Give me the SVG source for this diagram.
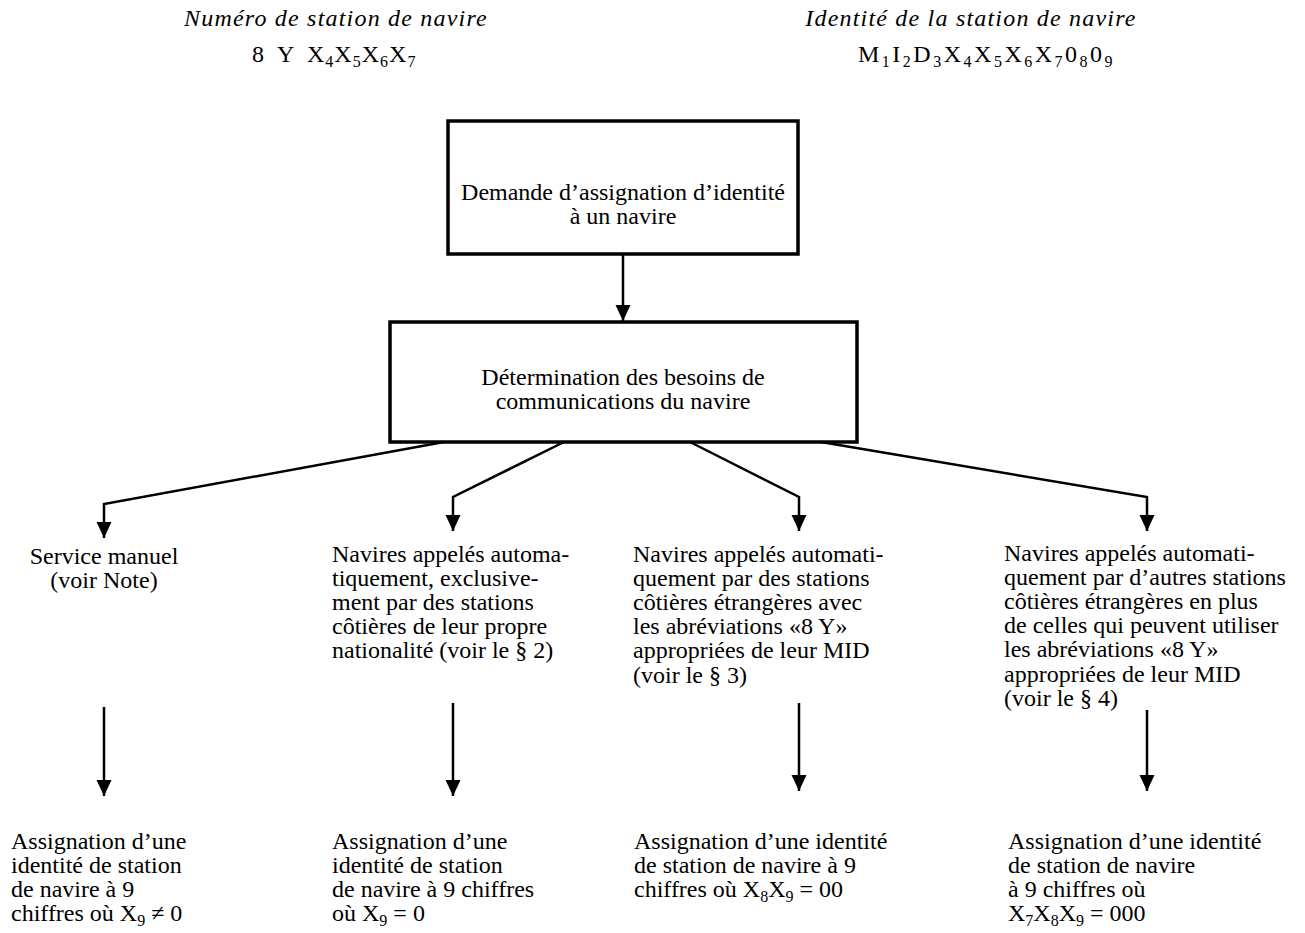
<svg xmlns="http://www.w3.org/2000/svg" width="1305" height="933" viewBox="0 0 1305 933">
<style>
.t{font-family:"Liberation Serif","Times New Roman",serif;font-size:24px;fill:#000}
.i{font-style:italic;letter-spacing:1.2px}
.s{font-size:16px}
.box{fill:#fff;stroke:#000;stroke-width:3.5}
.ln{fill:none;stroke:#000;stroke-width:2.5;stroke-linejoin:miter}
</style>
<defs>
<marker id="ah" markerUnits="userSpaceOnUse" markerWidth="16" markerHeight="18" refX="16" refY="7.5" orient="auto">
<path d="M0,0 L16,7.5 L0,15 Z" fill="#000"/>
</marker>
</defs>
<rect width="1305" height="933" fill="#fff"/>

<g id="header-left">
<text class="t i" x="336" y="26" text-anchor="middle">Numéro de station de navire</text>
<text class="t" x="252" y="62">8</text>
<text class="t" x="277" y="62">Y</text>
<text class="t" x="307" y="62" letter-spacing="1">X<tspan class="s" dy="5">4</tspan><tspan dy="-5">X</tspan><tspan class="s" dy="5">5</tspan><tspan dy="-5">X</tspan><tspan class="s" dy="5">6</tspan><tspan dy="-5">X</tspan><tspan class="s" dy="5">7</tspan></text>
</g>
<g id="header-right">
<text class="t i" x="971" y="26" text-anchor="middle">Identité de la station de navire</text>
<text class="t" x="858" y="62" letter-spacing="2.5">M<tspan class="s" dy="5">1</tspan><tspan dy="-5">I</tspan><tspan class="s" dy="5">2</tspan><tspan dy="-5">D</tspan><tspan class="s" dy="5">3</tspan><tspan dy="-5">X</tspan><tspan class="s" dy="5">4</tspan><tspan dy="-5">X</tspan><tspan class="s" dy="5">5</tspan><tspan dy="-5">X</tspan><tspan class="s" dy="5">6</tspan><tspan dy="-5">X</tspan><tspan class="s" dy="5">7</tspan><tspan dy="-5">0</tspan><tspan class="s" dy="5">8</tspan><tspan dy="-5">0</tspan><tspan class="s" dy="5">9</tspan></text>
</g>

<g id="connectors">
<line class="ln" x1="623" y1="254" x2="623" y2="321" marker-end="url(#ah)"/>
<polyline class="ln" points="444,442 104,504 104,538" marker-end="url(#ah)"/>
<polyline class="ln" points="564,442 453,497 453,531" marker-end="url(#ah)"/>
<polyline class="ln" points="690,442 799,497 799,531" marker-end="url(#ah)"/>
<polyline class="ln" points="821,442 1147,497 1147,531" marker-end="url(#ah)"/>
<line class="ln" x1="104" y1="707" x2="104" y2="796" marker-end="url(#ah)"/>
<line class="ln" x1="453" y1="703" x2="453" y2="796" marker-end="url(#ah)"/>
<line class="ln" x1="799" y1="703" x2="799" y2="791" marker-end="url(#ah)"/>
<line class="ln" x1="1147" y1="710" x2="1147" y2="791" marker-end="url(#ah)"/>
</g>

<g id="node-demande">
<rect class="box" x="448" y="121" width="350" height="133"/>
<text class="t" x="623" y="200" text-anchor="middle">Demande d’assignation d’identité</text>
<text class="t" x="623" y="224" text-anchor="middle">à un navire</text>
</g>

<g id="node-determination">
<rect class="box" x="390" y="322" width="467" height="120"/>
<text class="t" x="623" y="385" text-anchor="middle">Détermination des besoins de</text>
<text class="t" x="623" y="409" text-anchor="middle">communications du navire</text>
</g>

<g id="node-manuel">
<text class="t" x="104" y="564" text-anchor="middle">Service manuel</text>
<text class="t" x="104" y="588" text-anchor="middle">(voir Note)</text>
</g>

<g id="node-nationalite">
<text class="t" x="332" y="562">Navires appelés automa-</text>
<text class="t" x="332" y="586">tiquement, exclusive-</text>
<text class="t" x="332" y="610">ment par des stations</text>
<text class="t" x="332" y="634">côtières de leur propre</text>
<text class="t" x="332" y="658">nationalité (voir le § 2)</text>
</g>

<g id="node-etrangeres">
<text class="t" x="633" y="562">Navires appelés automati-</text>
<text class="t" x="633" y="586">quement par des stations</text>
<text class="t" x="633" y="610">côtières étrangères avec</text>
<text class="t" x="633" y="634">les abréviations «8 Y»</text>
<text class="t" x="633" y="658">appropriées de leur MID</text>
<text class="t" x="633" y="683">(voir le § 3)</text>
</g>

<g id="node-autres">
<text class="t" x="1004" y="561">Navires appelés automati-</text>
<text class="t" x="1004" y="585">quement par d’autres stations</text>
<text class="t" x="1004" y="609">côtières étrangères en plus</text>
<text class="t" x="1004" y="633">de celles qui peuvent utiliser</text>
<text class="t" x="1004" y="657">les abréviations «8 Y»</text>
<text class="t" x="1004" y="682">appropriées de leur MID</text>
<text class="t" x="1004" y="706">(voir le § 4)</text>
</g>

<g id="node-res1">
<text class="t" x="11" y="849">Assignation d’une</text>
<text class="t" x="11" y="873">identité de station</text>
<text class="t" x="11" y="897">de navire à 9</text>
<text class="t" x="11" y="921">chiffres où X<tspan class="s" dy="5">9</tspan><tspan dy="-5"> ≠ 0</tspan></text>
</g>
<g id="node-res2">
<text class="t" x="332" y="849">Assignation d’une</text>
<text class="t" x="332" y="873">identité de station</text>
<text class="t" x="332" y="897">de navire à 9 chiffres</text>
<text class="t" x="332" y="921">où X<tspan class="s" dy="5">9</tspan><tspan dy="-5"> = 0</tspan></text>
</g>
<g id="node-res3">
<text class="t" x="634" y="849">Assignation d’une identité</text>
<text class="t" x="634" y="873">de station de navire à 9</text>
<text class="t" x="634" y="897">chiffres où X<tspan class="s" dy="5">8</tspan><tspan dy="-5">X</tspan><tspan class="s" dy="5">9</tspan><tspan dy="-5"> = 00</tspan></text>
</g>
<g id="node-res4">
<text class="t" x="1008" y="849">Assignation d’une identité</text>
<text class="t" x="1008" y="873">de station de navire</text>
<text class="t" x="1008" y="897">à 9 chiffres où</text>
<text class="t" x="1008" y="921">X<tspan class="s" dy="5">7</tspan><tspan dy="-5">X</tspan><tspan class="s" dy="5">8</tspan><tspan dy="-5">X</tspan><tspan class="s" dy="5">9</tspan><tspan dy="-5"> = 000</tspan></text>
</g>
</svg>
